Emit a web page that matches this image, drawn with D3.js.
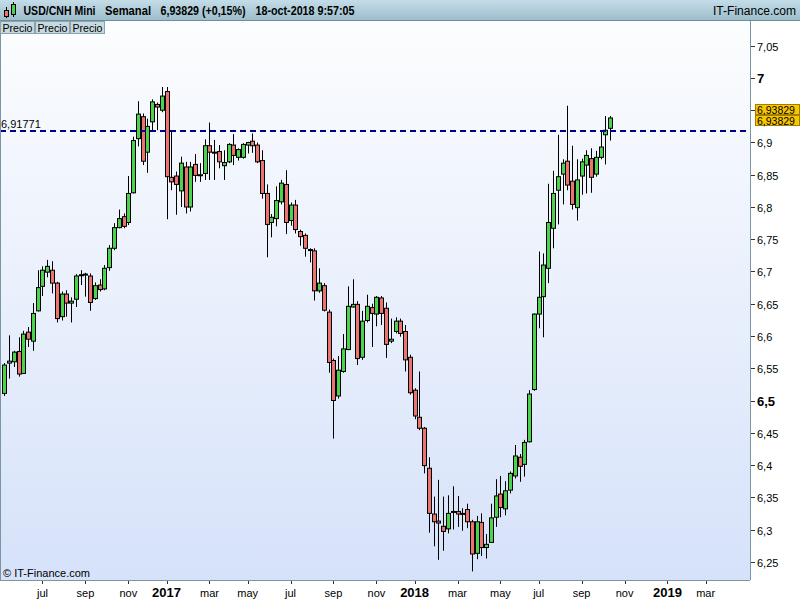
<!DOCTYPE html>
<html><head><meta charset="utf-8">
<script src="https://cdn.jsdelivr.net/npm/d3@7"></script>
<style>body{margin:0;background:#fff}svg{display:block;font-family:"Liberation Sans",Arial,sans-serif}</style>
</head><body>
<script>
const startDate = "2016-05-09";
const opens = [6.511,6.558,6.560,6.576,6.542,6.606,6.592,6.639,6.677,6.699,6.702,6.682,6.630,6.665,6.651,6.657,6.695,6.696,6.693,6.658,6.679,6.673,6.706,6.736,6.768,6.785,6.776,6.822,6.906,6.940,6.885,6.932,6.959,6.950,6.979,6.846,6.848,6.825,6.862,6.800,6.866,6.850,6.852,6.895,6.885,6.886,6.864,6.870,6.896,6.877,6.877,6.896,6.902,6.896,6.872,6.821,6.776,6.782,6.808,6.835,6.779,6.803,6.762,6.756,6.734,6.732,6.670,6.678,6.637,6.562,6.507,6.545,6.579,6.645,6.649,6.567,6.624,6.644,6.634,6.659,6.643,6.592,6.607,6.623,6.607,6.567,6.516,6.474,6.457,6.395,6.324,6.313,6.305,6.301,6.328,6.328,6.325,6.331,6.312,6.263,6.311,6.272,6.280,6.319,6.355,6.332,6.361,6.383,6.412,6.401,6.436,6.517,6.634,6.661,6.705,6.767,6.826,6.851,6.871,6.840,6.799,6.848,6.865,6.875,6.851,6.877,6.912,6.922];
const highs = [6.558,6.601,6.577,6.598,6.608,6.614,6.651,6.702,6.708,6.718,6.716,6.684,6.669,6.671,6.660,6.696,6.702,6.698,6.697,6.683,6.688,6.710,6.741,6.775,6.796,6.790,6.848,6.909,6.964,6.945,6.937,6.967,6.962,6.986,6.986,6.917,6.855,6.878,6.870,6.870,6.882,6.868,6.905,6.931,6.904,6.896,6.888,6.899,6.913,6.891,6.899,6.901,6.914,6.900,6.888,6.835,6.789,6.832,6.842,6.857,6.807,6.811,6.765,6.759,6.736,6.736,6.705,6.682,6.641,6.565,6.569,6.603,6.677,6.688,6.654,6.639,6.664,6.650,6.662,6.662,6.652,6.627,6.629,6.627,6.617,6.571,6.519,6.545,6.459,6.412,6.351,6.377,6.351,6.353,6.367,6.352,6.333,6.340,6.315,6.321,6.325,6.293,6.340,6.378,6.383,6.375,6.390,6.431,6.417,6.439,6.516,6.635,6.731,6.728,6.836,6.856,6.912,6.874,6.957,6.895,6.874,6.875,6.888,6.891,6.887,6.917,6.941,6.941];
const lows = [6.507,6.534,6.552,6.537,6.541,6.583,6.577,6.638,6.662,6.691,6.666,6.621,6.624,6.630,6.621,6.645,6.679,6.661,6.639,6.656,6.669,6.671,6.701,6.733,6.767,6.767,6.772,6.821,6.894,6.865,6.853,6.918,6.919,6.947,6.781,6.826,6.788,6.800,6.790,6.793,6.839,6.839,6.842,6.842,6.842,6.860,6.842,6.868,6.865,6.872,6.875,6.883,6.884,6.868,6.813,6.722,6.753,6.770,6.804,6.758,6.771,6.759,6.740,6.723,6.714,6.655,6.667,6.638,6.543,6.441,6.503,6.543,6.578,6.644,6.555,6.563,6.621,6.583,6.615,6.617,6.566,6.589,6.604,6.599,6.545,6.509,6.471,6.454,6.387,6.295,6.274,6.253,6.267,6.294,6.300,6.304,6.298,6.302,6.235,6.254,6.259,6.255,6.279,6.304,6.319,6.322,6.356,6.379,6.374,6.382,6.435,6.515,6.612,6.598,6.682,6.736,6.773,6.804,6.826,6.796,6.779,6.819,6.821,6.822,6.847,6.874,6.866,6.903];
const closes = [6.555,6.561,6.575,6.541,6.603,6.595,6.635,6.675,6.702,6.708,6.682,6.627,6.665,6.651,6.654,6.693,6.695,6.696,6.652,6.678,6.672,6.705,6.736,6.768,6.782,6.770,6.821,6.903,6.944,6.871,6.925,6.963,6.955,6.972,6.847,6.839,6.835,6.868,6.800,6.862,6.849,6.850,6.895,6.885,6.885,6.870,6.869,6.897,6.880,6.889,6.897,6.900,6.895,6.870,6.821,6.773,6.784,6.810,6.837,6.776,6.803,6.765,6.754,6.736,6.733,6.670,6.682,6.640,6.559,6.500,6.547,6.580,6.646,6.649,6.565,6.623,6.646,6.635,6.660,6.635,6.587,6.595,6.623,6.604,6.563,6.512,6.476,6.457,6.399,6.325,6.312,6.310,6.297,6.325,6.328,6.324,6.325,6.312,6.262,6.312,6.272,6.277,6.318,6.352,6.334,6.360,6.387,6.414,6.398,6.435,6.510,6.634,6.660,6.710,6.776,6.821,6.847,6.868,6.834,6.804,6.842,6.870,6.880,6.846,6.877,6.893,6.919,6.938];
const yTicks = [6.25,6.3,6.35,6.4,6.45,6.5,6.55,6.6,6.65,6.7,6.75,6.8,6.85,6.9,6.95,7,7.05];
const boldTicks = [6.5,7];
const hiddenTickLabels = [6.95];
const monthNames = ["ene","feb","mar","abr","may","jun","jul","ago","sep","oct","nov","dic"];
const refLevel = 6.91771;
const lastPrice = 6.93829;
const title = ["USD/CNH Mini","Semanal","6,93829 (+0,15%)","18-oct-2018 9:57:05"];
const tabs = ["Precio","Precio","Precio"];

const W=800,H=600, PL=0, PR=750, PT=20, PB=580;
const svg = d3.select("body").append("svg").attr("width",W).attr("height",H);
const defs = svg.append("defs");
const g1 = defs.append("linearGradient").attr("id","bg").attr("x1",0).attr("y1",0).attr("x2",0).attr("y2",1);
g1.append("stop").attr("offset","0%").attr("stop-color","#fcfdfe");
g1.append("stop").attr("offset","100%").attr("stop-color","#d6e2fa");
const g2 = defs.append("linearGradient").attr("id","hd").attr("x1",0).attr("y1",0).attr("x2",0).attr("y2",1);
g2.append("stop").attr("offset","0%").attr("stop-color","#c3dde8");
g2.append("stop").attr("offset","100%").attr("stop-color","#9dbdca");

svg.append("rect").attr("x",PL).attr("y",PT).attr("width",PR-PL).attr("height",PB-PT).attr("fill","url(#bg)");

const parse = d3.utcParse("%Y-%m-%d");
const d0 = parse(startDate);
const dates = opens.map((_,i)=>d3.utcWeek.offset(d0,i));
const data = opens.map((o,i)=>({i, date:dates[i], o, h:highs[i], l:lows[i], c:closes[i]}));

const x = d3.scaleLinear().domain([-0.9,156.3]).range([PL,PR]);
const y = d3.scaleLinear().domain([6.25,7.05]).range([561.75,45.75]);

const nTotal = 150;
const allDates = d3.range(nTotal).map(i=>d3.utcWeek.offset(d0,i));
const ticks = [];
allDates.forEach((d,i)=>{
  const m=d.getUTCMonth();
  if(d.getUTCDate()<=7 && m%2===0 && i>0){ticks.push({i,label: m===0? String(d.getUTCFullYear()) : monthNames[m], year:m===0});}
});

const xa = svg.append("g");
ticks.forEach(t=>{
  const xx=Math.round(x(t.i))+0.5;
  xa.append("line").attr("x1",xx).attr("x2",xx).attr("y1",PB).attr("y2",PB+4).attr("stroke","#333");
  xa.append("text").attr("x",x(t.i)).attr("y",597).attr("text-anchor","middle")
    .attr("font-size",t.year?13:11).attr("font-weight",t.year?"bold":"normal").attr("fill","#000").text(t.label);
});

const fmt = v=>d3.format(".2~f")(v).replace(".",",");
yTicks.forEach(v=>{
  const yy=Math.round(y(v))+0.5;
  svg.append("line").attr("x1",PR).attr("x2",PR+5).attr("y1",yy).attr("y2",yy).attr("stroke","#333");
  if(hiddenTickLabels.includes(v)) return;
  const b = boldTicks.includes(v);
  svg.append("text").attr("x",PR+7).attr("y",yy+4).attr("font-size",b?13:11).attr("font-weight",b?"bold":"normal").text(fmt(v));
});

const cw = 4;
const cg = svg.append("g");
data.forEach(d=>{
  const cx = Math.round(x(d.i))+0.5;
  cg.append("line").attr("x1",cx).attr("x2",cx).attr("y1",y(d.h)).attr("y2",y(d.l)).attr("stroke","#000").attr("stroke-width",1);
  const top = y(Math.max(d.o,d.c)), bot=y(Math.min(d.o,d.c));
  const up = d.c>=d.o;
  cg.append("rect").attr("x",cx-cw/2).attr("y",top).attr("width",cw).attr("height",Math.max(bot-top,1))
    .attr("fill", up?"#4bd44b":"#ec7470").attr("stroke","#000").attr("stroke-width",1);
});

svg.append("line").attr("x1",PL).attr("x2",PR).attr("y1",y(refLevel)).attr("y2",y(refLevel))
  .attr("stroke","#00008b").attr("stroke-width",2).attr("stroke-dasharray","6,4");
svg.append("text").attr("x",1).attr("y",y(refLevel)-3).attr("font-size",11).text(d3.format(".5f")(refLevel).replace(".",","));

[0,1].forEach(k=>{
  const yy = 104 + k*11;
  svg.append("rect").attr("x",PR+5.5).attr("y",yy+0.5).attr("width",44).attr("height",10).attr("fill","#f8c700").attr("stroke","#a08000");
  svg.append("text").attr("x",PR+7).attr("y",yy+9.5).attr("font-size",10.5).text(d3.format(".5f")(lastPrice).replace(".",","));
});

svg.append("line").attr("x1",PR+0.5).attr("x2",PR+0.5).attr("y1",PT).attr("y2",PB).attr("stroke","#7a96a2");
svg.append("line").attr("x1",0).attr("x2",PR).attr("y1",PB+0.5).attr("y2",PB+0.5).attr("stroke","#7a96a2");
svg.append("line").attr("x1",0.5).attr("x2",0.5).attr("y1",PT).attr("y2",PB).attr("stroke","#7a96a2");

svg.append("text").attr("x",3).attr("y",577).attr("font-size",11).text("© IT-Finance.com");

svg.append("rect").attr("x",0).attr("y",0).attr("width",W).attr("height",20).attr("fill","url(#hd)");
svg.append("line").attr("x1",0).attr("x2",W).attr("y1",20.5).attr("y2",20.5).attr("stroke","#6f8e9c");
svg.append("line").attr("x1",6.5).attr("x2",6.5).attr("y1",7).attr("y2",18).attr("stroke","#000");
svg.append("rect").attr("x",4.5).attr("y",10.5).attr("width",4).attr("height",6).attr("fill","#ec7470").attr("stroke","#000");
svg.append("line").attr("x1",13.5).attr("x2",13.5).attr("y1",2).attr("y2",17).attr("stroke","#000");
svg.append("rect").attr("x",11.5).attr("y",4.5).attr("width",4).attr("height",10).attr("fill","#4bd44b").attr("stroke","#000");
const tx=[23.5,105,160.5,255.5];
const tw=[72,46,85,99];
title.forEach((t,k)=>svg.append("text").attr("x",tx[k]).attr("y",15).attr("font-size",12).attr("font-weight","bold")
  .attr("textLength",tw[k]).attr("lengthAdjust","spacingAndGlyphs").text(t));
svg.append("text").attr("x",713).attr("y",15).attr("font-size",12).attr("textLength",83).attr("lengthAdjust","spacingAndGlyphs").text("IT-Finance.com");

tabs.forEach((t,k)=>{
  svg.append("rect").attr("x",k*35+0.5).attr("y",21.5).attr("width",34).attr("height",12).attr("fill","#c6d9e1").attr("stroke","#8aa3ae");
  svg.append("text").attr("x",k*35+2.5).attr("y",31.5).attr("font-size",11).attr("textLength",30).attr("lengthAdjust","spacingAndGlyphs").text(t);
});
</script>
</body></html>
